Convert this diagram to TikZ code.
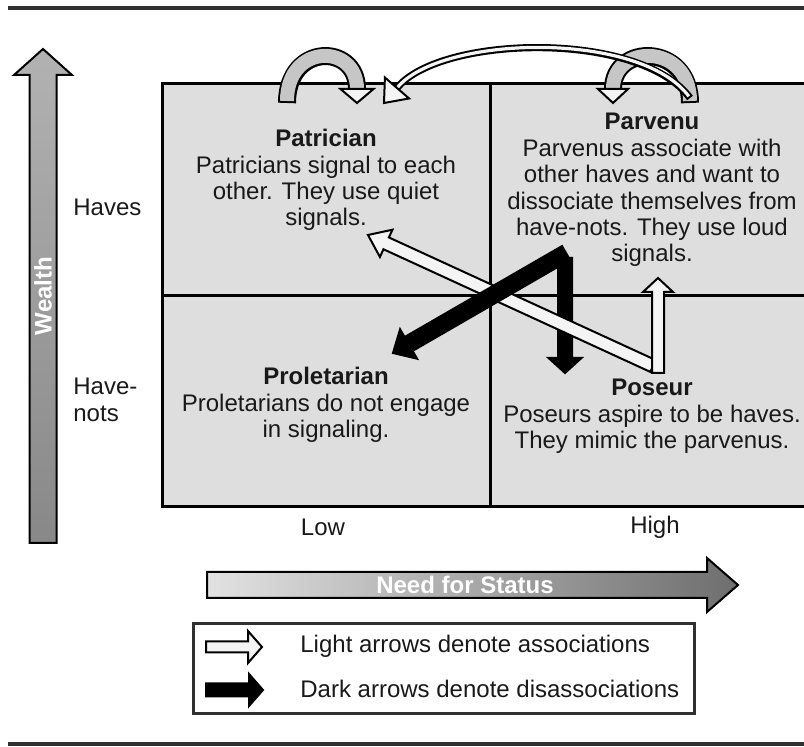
\documentclass[tikz,border=0pt]{standalone}
\usepackage{fontspec}
\setmainfont{Liberation Sans}
\usetikzlibrary{calc,positioning}

\definecolor{boxgray}{HTML}{DEDEDE}
\definecolor{lightfill}{HTML}{F4F4F4}
\definecolor{rulegray}{HTML}{303030}
\definecolor{loopgray}{HTML}{C6C6C6}
\definecolor{wealthtop}{HTML}{B2B2B2}
\definecolor{wealthbot}{HTML}{888888}
\definecolor{needleft}{HTML}{E2E2E2}
\definecolor{needright}{HTML}{6E6E6E}

% block arrow: [style]{tail}{tip}{half shaft}{half head}{head length}
\newcommand{\blockarrow}[6][]{%
  \coordinate (ba) at ($(#3)!#6!(#2)$);
  \draw[#1] ($(#2)!#4!90:(#3)$) -- ($(ba)!#4!90:(#3)$) -- ($(ba)!#5!90:(#3)$) -- (#3)
    -- ($(ba)!#5!-90:(#3)$) -- ($(ba)!#4!-90:(#3)$) -- ($(#2)!#4!-90:(#3)$) -- cycle;
}
% head only: [style]{base centre}{tip}{half head}
\newcommand{\blockhead}[4][]{%
  \draw[#1] ($(#2)!#4!90:(#3)$) -- (#3) -- ($(#2)!#4!-90:(#3)$) -- cycle;
}

\begin{document}
\begin{tikzpicture}[
    x=0.5pt, y=-0.5pt,
    every node/.style={font=\fontsize{12}{13.2}\selectfont, text=black!90, inner sep=0pt},
    quad/.style={align=center, anchor=north},
    white text/.style={text=white, font=\fontsize{12}{13.2}\selectfont\bfseries},
    light/.style={draw=black, line width=1pt, fill=lightfill, line join=miter},
    dark/.style={draw=black, line width=1pt, fill=black},
    band/.style={draw=loopgray, line width=7pt, shorten <=1pt,
      preaction={draw=black, line width=9pt, shorten <=0pt}},
    thinband/.style={draw=lightfill, line width=1.6pt, shorten <=1pt,
      preaction={draw=black, line width=3.6pt, shorten <=0pt}}
  ]
  \useasboundingbox (0,0) rectangle (804,747);

  % rules
  \draw[rulegray, line width=2pt] (8,8) -- (804,8);
  \draw[rulegray, line width=2pt] (8,744) -- (804,744);

  % grid
  \draw[fill=boxgray, line width=1.5pt] (162,84) rectangle (810,507);
  \draw[line width=1.5pt] (490,84) -- (490,507) (162,296) -- (810,296);

  \node[quad] (patrician) at (326,129) {\textbf{Patrician}\\Patricians signal to each\\other. They use quiet\\signals.};
  \node[quad] (parvenu) at (652,113) {\textbf{Parvenu}\\Parvenus associate with\\other haves and want to\\dissociate themselves from\\have-nots. They use loud\\signals.};
  \node[quad] (proletarian) at (326,367) {\textbf{Proletarian}\\Proletarians do not engage\\in signaling.};
  \node[quad] (poseur) at (652,379) {\textbf{Poseur}\\Poseurs aspire to be haves.\\They mimic the parvenus.};

  % axes
  \node[anchor=west] (haves) at (73,207) {Haves};
  \node[anchor=north west, align=left] (havenots) at (73,378) {Have-\\nots};
  \node (low) at (323,527) {Low};
  \node (high) at (655,527) {High};

  \coordinate (wealth-tail) at (43,543);
  \coordinate (wealth-tip) at (43,49);
  \blockarrow[draw=black, line width=1pt, top color=wealthtop, bottom color=wealthbot]{wealth-tail}{wealth-tip}{6.75pt}{14.5pt}{13pt}
  \node[white text, rotate=90] (wealth) at (43,296) {Wealth};

  \coordinate (need-tail) at (207,585);
  \coordinate (need-tip) at (738,585);
  \blockarrow[draw=black, line width=1pt, left color=needleft, right color=needright]{need-tail}{need-tip}{6.5pt}{13.5pt}{15.5pt}
  \node[white text] (need) at (465,585) {Need for Status};

  % loops on top
  \coordinate (pat-out) at (287,103);
  \coordinate (pat-base) at (357,89);
  \coordinate (pat-in) at (357,103);
  \draw[band] (pat-out) .. controls (287,43) and (357,43) .. (pat-base);
  \blockhead[light]{pat-base}{pat-in}{8.25pt}

  \coordinate (par-out) at (690,103);
  \coordinate (par-base) at (613,89);
  \coordinate (par-in) at (613,103);
  \draw[band] (par-out) .. controls (690,43) and (613,43) .. (par-base);
  \blockhead[light]{par-base}{par-in}{7.5pt}

  \coordinate (long-out) at (690,98);
  \coordinate (long-base) at (397,88);
  \coordinate (long-in) at (384,103);
  \draw[thinband] (long-out) .. controls (640,30) and (440,35) .. (long-base);
  \blockhead[light]{long-base}{long-in}{8pt}

  % arrows between quadrants
  \coordinate (dark-top) at (566,253);
  \coordinate (dark-vtop) at (565,258);
  \coordinate (dark-vtip) at (565,373);
  \coordinate (dark-dtip) at (393,353);
  \coordinate (light-dtail) at (653,366);
  \coordinate (light-dtip) at (368,235);
  \coordinate (light-vtail) at (658,373);
  \coordinate (light-vtip) at (658,278);

  \blockarrow[dark]{dark-vtop}{dark-vtip}{3.5pt}{8.25pt}{7.5pt}
  \blockarrow[light]{light-dtail}{light-dtip}{3.25pt}{7.5pt}{10pt}
  \blockarrow[dark]{dark-top}{dark-dtip}{4pt}{8.5pt}{9pt}
  \blockarrow[light]{light-vtail}{light-vtip}{3pt}{7.5pt}{7pt}

  % legend
  \draw[rulegray, line width=1.5pt] (193,624) rectangle (694,714);
  \coordinate (leg-light-tail) at (206,647);
  \coordinate (leg-light-tip) at (262,647);
  \coordinate (leg-dark-tail) at (206,690);
  \coordinate (leg-dark-tip) at (263,690);
  \blockarrow[light]{leg-light-tail}{leg-light-tip}{2.75pt}{8pt}{7pt}
  \blockarrow[dark]{leg-dark-tail}{leg-dark-tip}{3.25pt}{8pt}{7pt}
  \node[anchor=west] (leg-light) at (300,646) {Light arrows denote associations};
  \node[anchor=west] (leg-dark) at (300,689) {Dark arrows denote disassociations};
\end{tikzpicture}
\end{document}
